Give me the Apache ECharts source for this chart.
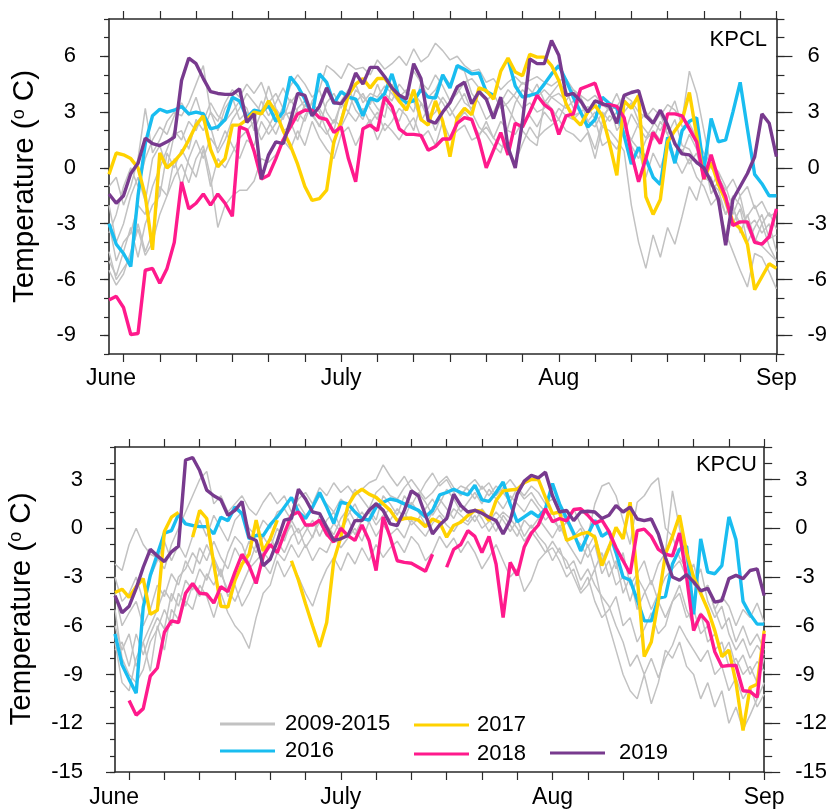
<!DOCTYPE html>
<html><head><meta charset="utf-8">
<script src="https://cdn.jsdelivr.net/npm/echarts@6/dist/echarts.min.js"></script>
<style>html,body{margin:0;padding:0;background:#fff}#c{width:830px;height:809px}</style>
</head><body><div id="c"></div>
<script>
const FONT = '"Liberation Sans", Arial, Helvetica, sans-serif';
// x tick labels (month starts) and their category index (first point = 2 days before June 1)
const tickLabels = ['June', 'July', 'Aug', 'Sep'];
const tickIdx = [2, 32, 62, 92];
const yTicksTop = [-9, -6, -3, 0, 3, 6];
const yTicksBot = [-15, -12, -9, -6, -3, 0, 3];
const stations = ['KPCL', 'KPCU'];

// ---------- KPCL (top panel) ----------
const kpcl2016 = [-3.0,-4.1,-4.6,-5.3,-1.5,1.3,2.8,3.15,3.0,3.1, 3.3,2.9,3.0,2.9,2.1,2.2,2.6,3.8,3.6,2.7, 3.1,3.0,3.35,2.5,3.0,4.9,4.4,3.7,2.8,5.05, 4.6,3.45,4.1,3.8,3.7,2.8,3.75,3.6,4.0,5.05, 3.8,3.5,3.6,4.2,3.8,3.75,5.0,4.3,5.5,5.3, 5.05,5.1,4.1,3.9,null,5.85,4.4,3.8,3.9,4.0, 4.5,5.05,5.5,4.7,3.8,3.0,2.2,2.6,3.8,3.45, 3.2,1.75,0.2,1.1,0.5,-0.5,-0.9,1.65,0.25,2.0, 2.5,2.7,-0.1,2.65,1.4,1.5,3.0,4.6,2.1,-0.35, -0.85,-1.5,-1.5];
const kpcl2017 = [-0.35,0.8,0.7,0.5,0.0,-1.5,-4.4,0.8,0.0,0.35, 0.8,1.5,2.3,2.8,1.0,0.05,0.5,2.3,2.3,2.6, 3.0,2.9,3.6,3.0,2.0,1.2,0.2,-1.0,-1.75,-1.65, -1.2,1.4,2.5,3.9,4.5,4.8,4.3,4.8,4.8,4.3, 3.6,3.1,4.2,2.6,2.3,3.6,2.5,0.6,2.7,3.2, 2.85,4.3,4.15,3.7,5.2,5.9,5.15,4.95,6.1,5.95, 5.95,5.5,4.7,3.45,2.7,2.3,3.0,3.35,2.8,1.3, -0.4,3.6,3.2,3.9,-1.55,-2.5,-1.7,1.4,2.0,2.55, 4.05,1.75,-0.6,0.3,-0.9,-1.75,-2.9,-3.25,-4.1,-6.55, -5.85,-5.15,-5.4];
const kpcl2018 = [-7.1,-6.9,-7.5,-8.95,-8.9,-5.5,-5.4,-6.2,-5.4,-4.0, -0.75,-2.2,-1.9,-1.4,-2.0,-1.4,-1.9,-2.6,2.2,2.05, 0.9,-0.6,-0.4,0.5,1.5,2.2,2.9,3.1,3.1,2.7, 2.6,1.9,2.2,0.5,-0.75,2.1,2.3,2.0,3.8,3.3, 2.1,1.8,1.8,1.75,0.95,1.15,1.55,1.55,2.4,2.7, 2.6,1.5,0.0,0.95,1.9,0.7,2.4,2.2,3.0,3.9, 3.4,3.1,1.8,2.8,2.9,4.25,4.4,4.55,3.4,3.4, 3.3,2.7,0.8,-0.75,0.5,1.9,1.3,2.9,2.9,2.8, 2.1,1.4,-0.6,0.7,-0.6,-1.55,-3.1,-2.9,-2.9,-4.0, -4.1,-3.7,-2.2];
const kpcl2019 = [-1.4,-1.9,-1.5,-0.3,0.25,1.6,1.3,1.2,1.4,1.65, 4.7,5.9,5.6,4.8,4.1,4.0,3.95,3.95,4.25,2.45, 2.9,-0.6,0.7,1.4,1.3,2.5,4.0,3.9,2.8,3.3, 4.3,3.5,3.45,4.0,5.1,4.5,5.4,5.4,4.9,4.3, 3.9,3.7,5.6,4.8,2.55,2.4,3.0,3.5,4.35,4.6, 3.45,4.1,3.7,2.65,3.8,1.1,0.0,2.5,5.85,5.6, 5.6,6.85,6.05,3.9,4.0,3.6,3.0,3.6,3.45,3.3, 2.4,3.9,4.05,4.15,2.8,2.4,3.1,2.3,1.3,0.75, 0.7,0.3,0.0,-0.75,-1.7,-4.15,-1.7,-1.0,-0.3,0.6, 2.9,2.4,0.6];
const kpclG1 = [-1.0,-0.5,-2.0,-1.0,0.5,3.2,0.8,1.5,2.5,3.0, 2.8,3.5,4.5,5.5,3.0,2.5,3.5,4.2,3.8,4.5, 4.0,4.6,3.5,4.0,3.2,4.4,5.0,4.5,3.8,4.2, 5.5,5.2,4.8,5.6,5.3,5.4,5.0,5.8,5.3,5.6, 6.0,5.5,6.4,5.7,6.0,6.7,6.3,5.8,6.0,5.5, 5.2,5.3,4.6,4.8,4.2,4.6,4.9,4.5,4.7,4.9, 4.6,4.4,4.7,4.8,4.2,3.9,3.6,3.9,3.4,3.1, 3.3,3.9,3.6,3.0,2.7,3.2,2.8,3.4,3.1,2.6, 5.2,4.0,2.0,0.0,-0.5,-1.2,-0.6,-1.5,-1.0,-2.2, -1.8,-2.6,-2.4];
const kpclG2 = [-5.5,-6.3,-5.7,-4.5,-3.3,-4.7,-4.0,-2.5,-1.5,-0.5, 0.2,-0.8,0.5,1.2,-0.5,-3.2,-2.0,-1.5,-1.2,-1.2, -0.7,0.5,0.3,0.7,1.5,1.0,2.0,1.2,2.5,1.6, 1.0,0.5,1.8,2.2,1.2,2.0,2.6,1.5,2.4,2.0, 1.5,2.2,2.7,1.6,2.0,1.2,2.5,1.6,2.0,2.3, 1.5,1.7,2.5,1.6,1.2,1.0,0.3,1.3,2.2,1.6, 2.0,2.3,2.6,2.0,1.8,1.4,1.9,0.5,2.2,2.0, 1.5,0.9,-2.0,-4.0,-5.4,-3.6,-4.8,-3.2,-4.1,-2.6, -1.0,-1.75,-0.3,-0.5,-2.0,-3.5,-4.5,-5.5,-6.4,-4.6, -4.8,-5.6,-6.5];
const kpclG3 = [-3.0,-5.0,-4.0,-3.5,-2.0,-2.5,-1.0,0.0,1.0,2.0, 1.5,2.5,2.0,3.0,2.2,0.8,1.5,2.6,3.2,4.0, 3.5,3.0,4.4,3.2,2.6,3.7,3.0,2.5,3.6,4.2, 3.0,2.4,3.5,3.0,4.2,3.8,3.4,4.5,3.5,3.0, 2.5,3.6,3.0,4.6,3.8,4.2,5.0,4.5,5.4,5.2, 4.0,3.5,2.6,3.0,3.8,3.2,2.5,2.0,1.5,1.2, 3.5,4.0,4.5,4.2,3.2,3.6,2.5,3.0,2.2,2.8, 2.5,1.8,2.9,2.2,1.6,2.3,2.9,1.8,2.6,1.2, 1.0,0.2,0.6,-1.4,-0.7,-2.0,-3.0,-2.2,-4.0,-3.2, -2.5,-3.8,-3.6];
const kpclG4 = [-4.5,-6.0,-5.4,-4.8,-3.0,-4.5,-3.5,-1.0,-1.5,0.5, -1.0,0.5,1.5,0.5,1.6,1.0,2.0,1.2,0.5,1.5, 1.2,2.5,1.8,2.4,3.3,2.5,1.5,2.8,3.5,3.0, 2.0,1.2,2.7,4.0,3.1,2.6,3.8,3.2,2.7,4.5, 3.8,4.2,3.6,2.5,3.2,4.0,3.5,2.8,3.4,4.0, 3.0,2.2,1.8,1.2,0.8,2.2,3.5,4.2,3.8,4.5, 3.6,3.2,2.6,3.5,2.8,3.0,2.0,1.0,2.5,3.4, 2.0,2.6,1.2,0.5,1.5,2.0,1.5,2.2,1.4,0.8, 1.8,1.0,0.0,-1.0,-0.3,-1.8,-2.5,-1.5,-3.2,-2.8, -3.5,-3.0,-4.5];
const kpclG5 = [-2.0,-4.0,-3.0,-1.5,-0.5,-1.8,0.5,1.2,0.0,1.8, 2.0,1.0,2.6,2.0,3.0,2.0,3.2,3.8,2.6,3.0, 2.5,3.6,2.8,3.5,4.3,3.5,4.0,3.2,2.8,3.2, 2.5,2.0,3.6,4.2,3.5,4.0,3.2,2.6,4.0,3.6, 4.5,4.0,5.2,4.6,4.2,5.0,4.4,3.6,4.0,4.6, 4.8,4.3,3.6,4.0,3.2,3.5,4.0,4.6,4.2,3.8, 4.2,3.8,3.5,3.2,3.6,3.0,3.3,2.6,1.2,1.5, 1.0,2.0,1.5,2.4,3.0,2.5,2.0,2.8,3.6,2.2, 2.4,1.6,0.8,0.2,-0.2,-1.0,-2.2,-3.0,-2.6,-2.0, -3.0,-2.4,-3.3];
const kpclG6 = [-5.0,-5.8,-4.5,-3.2,-4.8,-3.0,-2.0,-1.5,0.8,0.0, 1.0,0.2,-0.5,1.0,-1.0,0.5,0.0,0.8,1.6,2.0, 2.5,1.5,2.2,3.0,2.0,2.2,3.2,3.6,2.8,2.3, 1.8,2.6,2.2,3.0,2.5,3.2,2.4,3.0,2.0,2.5, 3.2,2.8,2.0,3.5,2.6,3.0,3.8,3.2,2.5,3.0, 2.5,1.8,2.2,1.6,2.5,2.0,1.8,2.5,2.8,2.2, 3.0,2.5,3.2,2.8,2.6,3.0,2.5,2.2,3.0,2.5, 3.0,2.2,1.5,1.0,-0.5,0.8,0.0,1.2,0.5,-0.3, 0.5,-0.5,-1.0,-2.0,-1.5,-2.5,-2.0,-3.5,-2.5,-3.8, -4.2,-4.6,-5.0];
const kpclG7 = [-3.5,-2.5,-1.0,0.0,-1.0,0.5,1.5,2.2,1.8,2.8, 3.5,2.8,3.8,2.5,3.5,2.8,2.5,3.0,3.6,3.2, 2.0,3.0,2.5,1.8,2.8,3.0,2.5,3.4,3.0,2.2, 3.5,4.0,3.2,4.2,4.5,3.5,4.0,3.8,4.4,4.0, 3.5,3.2,4.0,3.5,3.0,2.0,3.0,3.6,4.4,3.5, 3.2,4.0,3.6,2.8,3.5,4.2,3.8,3.2,3.5,3.0, 3.2,3.8,4.0,3.6,4.2,3.8,3.0,3.5,2.8,3.2, 4.0,3.0,3.5,2.5,2.0,1.5,2.5,1.8,0.5,1.0, 0.2,0.8,-0.5,-0.8,-1.2,-2.5,-1.5,-2.0,-3.2,-4.0, -3.0,-4.2,-5.0];

// ---------- KPCU (bottom panel) ----------
const kpcu2016 = [-6.5,-8.4,-9.3,-10.15,-4.85,-2.9,-1.6,-0.3,-0.15,0.85, 0.27,0.17,0.1,0.1,-0.35,0.68,0.47,1.3,0.9,-0.65, -0.45,-0.45,0.22,0.7,1.3,1.9,1.0,0.6,1.3,2.2, 1.3,0.3,1.6,1.5,1.0,0.6,0.5,1.3,1.6,1.8, 1.7,1.5,1.3,1.1,0.7,1.1,2.05,2.2,2.4,2.2, 2.05,2.65,1.75,1.65,2.2,2.85,1.5,0.4,0.7,1.0, 0.7,1.2,2.75,1.5,0.6,-0.3,-1.4,-0.4,0.5,-0.5, -0.2,-1.5,-3.0,-3.2,-4.4,-5.7,-5.7,-4.3,-4.2,-2.2, -1.3,-1.1,-5.3,-0.65,-2.7,-2.8,-2.3,0.7,-0.7,-4.5, -5.3,-5.9,-5.9];
const kpcu2017 = [-3.95,-3.75,-4.25,-3.6,-3.1,-5.3,-5.05,-0.2,0.68,0.98, null,-0.55,1.1,0.6,-2.2,-4.8,-4.85,-3.2,-2.2,-1.6, 0.5,-1.4,-0.65,0.5,null,-2.0,-3.2,-4.65,-6.0,-7.3, -5.8,-2.0,-0.55,1.4,2.1,2.4,2.1,1.9,1.5,1.1, 0.47,0.6,0.63,0.5,0.1,0.57,0.37,-0.55,0.17,0.37, 0.78,1.1,1.05,0.47,1.7,2.3,2.35,2.4,2.8,3.0, 3.0,1.9,0.9,1.0,-0.75,-0.55,-0.35,-0.25,-0.55,-2.3, -1.2,0.06,-0.65,1.6,-3.0,-7.9,-7.0,-4.45,-1.6,-0.5, 0.8,-1.5,-3.0,-4.0,-5.0,-6.3,-7.9,-7.5,-9.5,-12.45, -9.8,-9.6,-6.3];
const kpcu2018 = [null,null,-10.6,-11.5,-11.1,-9.1,-8.6,-6.4,-5.7,-5.8, -4.0,-3.4,-4.0,-4.05,-4.6,-3.6,-3.9,-2.7,-1.6,-2.3, -3.4,-1.7,-1.0,-1.5,-0.3,0.8,1.0,0.2,0.2,0.5, -0.35,-0.85,0.0,-0.45,-0.75,0.2,-0.75,-2.6,0.7,-0.55, -2.0,-2.1,-2.15,-2.4,-2.65,-1.6,null,-2.4,-1.3,-1.0, -0.15,-0.5,-1.5,-0.5,-2.2,-5.5,-2.1,-2.9,-1.15,-0.3, 0.2,1.2,0.4,0.6,0.45,1.15,1.2,0.8,0.3,0.5, -0.2,-1.2,-2.0,-2.8,-0.15,-0.05,-0.5,-1.3,-1.6,-1.7, -0.3,-3.0,-6.3,-5.3,-5.8,-7.6,-8.5,-8.45,-8.45,-10.0, -10.05,-10.4,-6.5];
const kpcu2019 = [-4.15,-5.2,-4.8,-3.7,-2.4,-1.3,-1.7,-2.05,-1.45,-1.1, 4.2,4.35,3.55,2.35,2.0,1.75,0.8,1.1,1.65,-0.55, -0.75,-2.3,-1.9,-0.8,0.5,0.6,2.4,1.8,1.0,0.9, 0.06,-0.75,-0.65,-0.45,0.47,0.47,1.1,1.5,1.1,0.27, 0.17,1.1,2.3,2.0,0.8,-0.35,0.2,0.6,2.1,1.4, 1.0,1.1,0.92,0.68,0.47,-0.35,0.47,2.1,2.9,3.25, 3.1,3.45,2.0,1.0,1.1,0.47,1.0,1.05,1.0,0.6, 0.8,1.4,1.0,1.3,0.57,0.47,0.57,-0.35,-1.8,-3.0, -3.2,-2.85,-3.3,-3.85,-3.7,-4.55,-4.45,-3.1,-2.9,-3.1, -2.6,-2.5,-4.15];
const kpcuG1 = [-2.2,-2.6,-1.0,0.0,-1.0,-1.6,-1.8,-2.5,-1.0,0.0, 1.0,2.0,3.0,3.5,1.5,2.0,1.0,1.5,2.0,1.2, 0.8,1.6,2.2,1.5,2.0,1.0,1.8,2.2,1.5,2.5, 2.0,2.8,2.2,2.6,2.0,2.4,2.8,3.0,3.9,3.2, 2.6,3.2,2.4,2.0,2.8,3.4,2.6,3.0,2.2,2.6, 2.4,1.8,2.6,2.0,2.6,2.2,1.6,2.5,2.0,2.6, 2.2,1.5,1.8,1.0,0.5,1.2,0.2,-0.5,1.5,2.6, 2.8,2.0,0.5,-1.0,1.6,2.0,2.7,3.1,0.0,-0.5, -1.8,-2.5,-3.0,-4.0,-3.5,-5.0,-4.2,-4.8,-6.0,-5.0, -5.5,-4.6,-5.8];
const kpcuG2 = [-7.0,-9.5,-10.0,-8.0,-7.0,-8.8,-6.0,-7.5,-5.0,-5.6, -4.5,-5.0,-3.5,-4.2,-5.5,-4.0,-5.2,-6.0,-6.5,-7.4, -5.5,-4.0,-3.5,-2.0,-3.0,-2.2,-3.0,-4.0,-4.8,-3.5, -2.5,-1.8,-2.6,-1.5,-2.2,-1.2,-2.0,-1.0,-1.8,-1.2, -0.8,-1.5,-0.5,-1.0,-2.0,-1.5,-0.5,-1.2,-0.6,-1.5, -0.8,-1.5,-2.5,-1.8,-1.0,-2.0,-3.0,-2.5,-3.9,-3.2, -2.0,-1.5,-0.8,-1.5,-2.0,-3.0,-4.0,-3.5,-2.5,-4.5, -6.0,-7.5,-9.0,-10.0,-10.5,-9.0,-10.8,-9.5,-7.5,-8.0, -7.0,-8.5,-9.0,-10.5,-9.5,-11.0,-10.0,-12.0,-11.0,-12.4, -11.5,-10.5,-9.5];
const kpcuG3 = [-4.0,-6.0,-5.2,-4.5,-6.0,-5.0,-3.5,-4.2,-2.8,-3.5, -2.0,-2.8,-1.2,-2.0,-0.8,-1.8,-2.5,-1.2,-2.0,-0.8, -1.5,-0.5,-1.2,0.0,-0.8,0.5,-0.3,0.2,-0.6,0.8, 0.2,-0.4,0.6,1.2,0.4,1.0,0.3,1.6,1.0,0.5, 1.2,0.6,1.6,1.0,0.2,1.0,1.8,1.2,0.6,1.5, 1.0,0.4,1.2,0.6,-0.2,0.8,0.2,-0.5,0.5,0.0, 0.6,0.0,-0.6,0.2,-0.8,-1.5,-2.2,-1.0,-2.5,-1.5, -3.0,-2.0,-4.0,-3.0,-5.0,-4.0,-3.2,-4.5,-5.5,-4.5, -3.5,-5.0,-6.0,-5.2,-7.0,-6.5,-7.8,-7.0,-8.5,-7.8, -9.0,-8.2,-8.8];
const kpcuG4 = [-6.0,-7.5,-6.5,-8.5,-7.0,-6.0,-5.0,-3.8,-4.5,-3.0, -2.5,-1.5,-2.2,-1.0,-2.0,-3.0,-1.5,-0.5,-1.0,-2.2, -1.0,-2.0,-0.5,-1.5,-0.5,0.2,-1.0,-0.2,0.5,-0.5, 0.5,1.0,0.0,0.8,1.5,0.6,1.2,0.5,2.0,1.5, 0.8,2.0,1.4,2.2,1.6,0.8,1.5,2.4,1.8,1.0, 1.6,2.2,1.5,2.4,1.8,1.2,2.0,1.5,1.0,1.8, 1.2,0.5,1.0,-0.2,0.4,-0.5,0.0,-1.2,-0.4,-2.0, -1.0,-2.5,-1.5,-3.5,-2.8,-2.0,-3.5,-2.2,-1.5,2.3, 0.0,-2.0,-3.5,-2.5,-4.5,-5.5,-4.8,-6.5,-7.5,-6.8, -8.0,-7.2,-7.8];
const kpcuG5 = [-5.0,-8.0,-9.0,-9.5,-8.7,-7.0,-6.2,-5.0,-6.0,-4.0, -4.8,-3.5,-4.2,-2.8,-3.5,-2.5,-4.2,-3.5,-4.8,-4.0, -3.0,-2.2,-2.8,-1.5,-2.0,-1.0,-1.8,-1.0,-2.0,-1.2, -1.5,-0.5,-1.2,-0.6,0.0,-0.8,0.4,-0.5,0.2,-0.4, 0.0,-0.6,0.5,0.0,-0.5,0.3,0.8,0.2,-0.2,0.5, 0.2,0.8,0.0,0.4,1.0,0.5,-0.2,0.5,-0.5,0.2, -0.5,-1.0,-2.0,-1.2,-2.5,-2.0,-3.2,-2.5,-3.5,-4.2, -4.8,-6.0,-7.0,-8.5,-7.8,-9.0,-8.0,-9.2,-8.0,-7.2, -6.0,-6.8,-7.5,-8.2,-7.5,-9.0,-8.5,-10.0,-9.2,-10.5, -9.8,-11.0,-10.2];
const kpcuG6 = [-3.0,-4.5,-4.0,-3.0,-4.5,-3.0,-2.0,-0.8,-2.0,-1.0, -1.8,-0.5,0.5,-0.5,0.8,0.0,-0.8,0.5,1.0,0.0, -0.5,0.5,0.0,1.0,1.2,0.5,1.5,0.8,1.2,2.0, 1.5,1.0,1.8,1.4,2.4,1.8,1.2,2.2,2.6,2.0, 1.8,2.5,3.0,2.4,1.8,2.2,2.8,3.2,2.5,2.0, 2.6,3.0,2.4,2.8,2.0,2.5,3.0,2.4,1.8,2.2, 1.5,1.0,0.5,0.0,0.8,-0.5,-1.0,-1.8,-1.0,-2.8, -2.0,-3.5,-3.0,-4.5,-3.0,-3.8,-5.0,-4.0,-3.0,-2.5, -2.0,-3.0,-2.2,-4.0,-3.5,-5.0,-6.2,-5.5,-7.0,-6.0, -7.2,-6.5,-7.5];
const kpcuG7 = [-7.5,-7.0,-8.5,-6.5,-7.8,-6.5,-5.5,-6.2,-4.0,-4.8, -3.2,-3.8,-2.5,-3.2,-1.8,-2.8,-3.8,-4.5,-3.5,-2.5, -2.0,-1.5,-2.0,-0.8,-1.5,-0.5,0.0,-1.2,-0.5,0.4, -0.5,0.3,-0.2,0.6,-0.4,0.5,1.0,0.2,0.8,1.2, 0.5,1.0,0.2,0.6,1.2,1.8,1.0,0.5,1.2,0.8, 0.4,1.2,0.6,-0.2,0.5,1.0,0.6,0.0,-0.8,-0.2, -0.8,-1.5,-1.2,-2.0,-3.0,-2.5,-3.8,-3.0,-4.5,-5.5, -5.0,-4.2,-6.0,-5.5,-7.0,-6.2,-5.2,-6.5,-6.0,-4.5, -4.0,-5.5,-5.0,-6.5,-6.0,-7.5,-7.0,-8.5,-8.0,-9.0, -8.5,-9.5,-8.0];

// category axis: daily dates from May 30 to Sep 1
const days = [];
for (let i = 0; i < kpcl2016.length; i++) {
  const d = new Date(Date.UTC(2019, 4, 30 + i));
  days.push((d.getUTCMonth() + 1) + '/' + d.getUTCDate());
}

const C = { gray: '#c2c2c2', y2016: '#19bdf0', y2017: '#ffd200', y2018: '#ff1a8c', y2019: '#783a8e' };
const AX = '#2a2a2a';

function xAxis(gridIndex, position, showLabel, junPad, margin) {
  return {
    type: 'category', data: days, gridIndex, position, boundaryGap: false,
    axisLine: { show: true, onZero: false, lineStyle: { color: AX, width: 1.6 } },
    axisTick: { show: true, inside: false, length: 8, interval: (idx) => ((idx - 2) % 5 === 0), lineStyle: { color: AX, width: 1.2 } },
    axisLabel: {
      show: showLabel, interval: (idx) => tickIdx.indexOf(idx) >= 0, margin,
      fontSize: 23, color: '#000', fontFamily: FONT,
      formatter: (v, idx) => { const k = tickIdx.indexOf(idx); if (k < 0) return ''; return k === 0 ? '{j|' + tickLabels[0] + '}' : tickLabels[k]; },
      rich: { j: { fontSize: 23, fontFamily: FONT, color: '#000', padding: [0, junPad, 0, 0] } }
    },
    splitLine: { show: false }
  };
}
function yMajor(gridIndex, position, min, max, vals, len, margin) {
  return {
    type: 'value', gridIndex, position, min, max,
    axisLine: { show: true, onZero: false, lineStyle: { color: AX, width: 1.6 } },
    axisTick: { show: true, inside: false, length: len, customValues: vals, lineStyle: { color: AX, width: 1.2 } },
    axisLabel: { show: true, customValues: vals, margin, fontSize: 22, color: '#000', fontFamily: FONT },
    splitLine: { show: false }
  };
}
function yMinor(gridIndex, position, min, max, len) {
  return {
    type: 'value', gridIndex, position, min, max, interval: 1,
    axisLine: { show: false, onZero: false },
    axisTick: { show: true, inside: false, length: len, lineStyle: { color: AX, width: 1.2 } },
    axisLabel: { show: false }, splitLine: { show: false }
  };
}
function line(name, data, color, width, xi, yi, z) {
  return {
    type: 'line', name, data, xAxisIndex: xi, yAxisIndex: yi, symbol: 'none', showSymbol: false,
    connectNulls: false, lineStyle: { color, width }, itemStyle: { color }, z, silent: true,
    emphasis: { disabled: true }, animation: false
  };
}

const series = [];
[kpclG1, kpclG2, kpclG3, kpclG4, kpclG5, kpclG6, kpclG7].forEach(g => series.push(line('2009-2015', g, C.gray, 1.5, 0, 0, 2)));
series.push(line('2016', kpcl2016, C.y2016, 3.4, 0, 0, 3));
series.push(line('2017', kpcl2017, C.y2017, 3.4, 0, 0, 4));
series.push(line('2018', kpcl2018, C.y2018, 3.4, 0, 0, 5));
series.push(line('2019', kpcl2019, C.y2019, 3.4, 0, 0, 6));
[kpcuG1, kpcuG2, kpcuG3, kpcuG4, kpcuG5, kpcuG6, kpcuG7].forEach(g => series.push(line('2009-2015', g, C.gray, 1.5, 2, 4, 2)));
series.push(line('2016', kpcu2016, C.y2016, 3.4, 2, 4, 3));
series.push(line('2017', kpcu2017, C.y2017, 3.4, 2, 4, 4));
series.push(line('2018', kpcu2018, C.y2018, 3.4, 2, 4, 5));
series.push(line('2019', kpcu2019, C.y2019, 3.4, 2, 4, 6));

function legend(left, top, names, gap, textPadLeft) {
  return {
    left, top, orient: 'vertical', padding: 0, itemGap: gap, itemWidth: 55, itemHeight: 3, icon: 'rect',
    selectedMode: false, data: names,
    textStyle: { fontSize: 22, lineHeight: 22, fontFamily: FONT, color: '#000', padding: [0, 0, 0, textPadLeft] }
  };
}
function yTitle(x, y) {
  return {
    type: 'text', x, y, rotation: Math.PI / 2, silent: true,
    style: {
      text: '{a|Temperature (}{s|o}{a| C)}', align: 'center', verticalAlign: 'middle',
      rich: { a: { fontSize: 29.5, fontFamily: FONT, fill: '#000' }, s: { fontSize: 18, fontFamily: FONT, fill: '#000', verticalAlign: 'top' } }
    }
  };
}

const option = {
  animation: false,
  backgroundColor: '#fff',
  grid: [
    { left: 109, top: 19, width: 671, height: 335 },
    { left: 115, top: 447, width: 651, height: 325 }
  ],
  xAxis: [xAxis(0, 'bottom', true, 25, 13), xAxis(0, 'top', false, 0, 8), xAxis(1, 'bottom', true, 30, 14), xAxis(1, 'top', false, 0, 8)],
  yAxis: [
    yMajor(0, 'left', -10, 8, yTicksTop, 9, 33), yMinor(0, 'left', -10, 8, 5),
    yMajor(0, 'right', -10, 8, yTicksTop, 16, 31), yMinor(0, 'right', -10, 8, 8),
    yMajor(1, 'left', -15, 5, yTicksBot, 9, 32), yMinor(1, 'left', -15, 5, 5),
    yMajor(1, 'right', -15, 5, yTicksBot, 16, 31), yMinor(1, 'right', -15, 5, 8)
  ],
  legend: [
    legend(220, 713, ['2009-2015', '2016'], 5, 5),
    legend(414, 714, ['2017', '2018'], 7, 3),
    legend(550, 742, ['2019'], 5, 9)
  ],
  graphic: [
    yTitle(25, 186.5), yTitle(22, 609),
    { type: 'text', right: 63, top: 29, silent: true, style: { text: stations[0], fontSize: 22, fontFamily: FONT, fill: '#000' } },
    { type: 'text', right: 73, top: 454, silent: true, style: { text: stations[1], fontSize: 22, fontFamily: FONT, fill: '#000' } }
  ],
  series
};
const chart = echarts.init(document.getElementById('c'));
chart.setOption(option);
</script>
</body></html>
